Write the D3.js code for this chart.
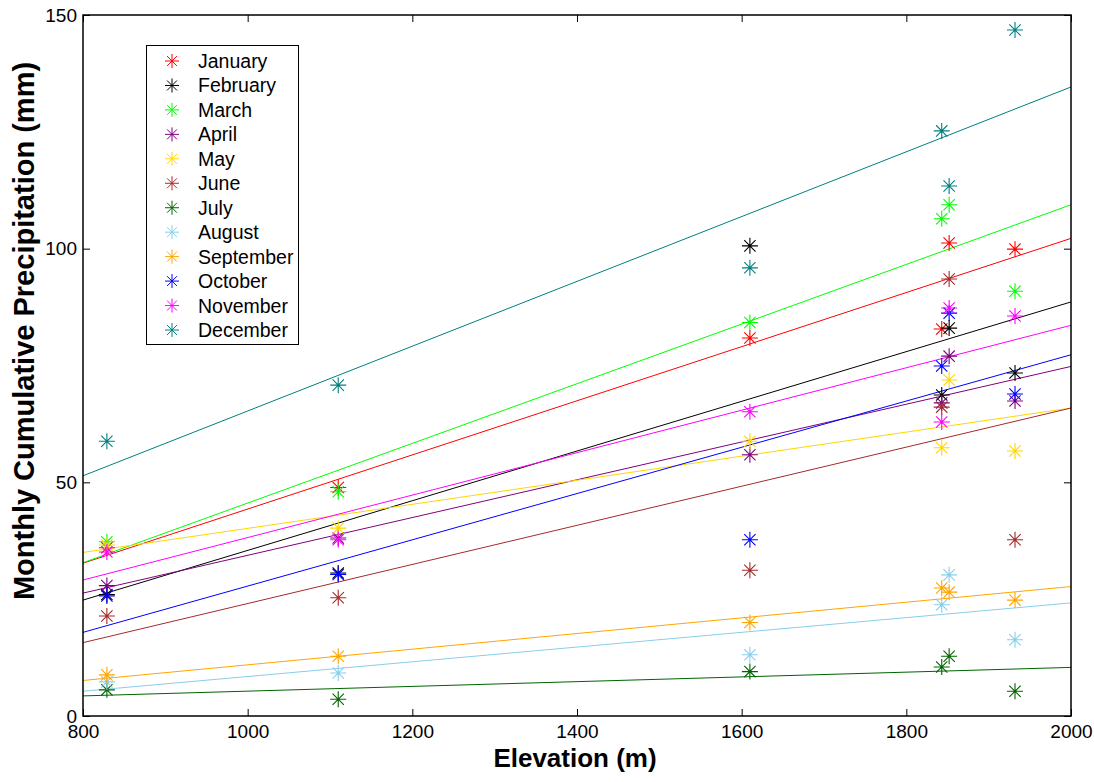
<!DOCTYPE html>
<html>
<head>
<meta charset="utf-8">
<script src="https://d3js.org/d3.v7.min.js"></script>
<style>
  body { margin: 0; background: #fff; }
  svg text { font-family: Arial, "Liberation Sans", Helvetica, sans-serif; }
</style>
</head>
<body>
<div id="chart"></div>
<script>
// station elevations (m)
const elevations = [829, 1110, 1610, 1843, 1852, 1932];

const months = ["January", "February", "March", "April", "May", "June",
  "July", "August", "September", "October", "November", "December"];

const colors = ["#ff0000", "#000000", "#00ff00", "#800080", "#ffd700", "#a52a2a",
  "#006400", "#87ceeb", "#ffa500", "#0000ff", "#ff00ff", "#008080"];

// monthly precipitation at each station (same order as elevations)
const january   = [36.0, 48.9, 80.9, 82.8, 101.2, 99.9];
const february  = [26.0, 30.6, 100.6, 68.7, 83.0, 73.4];
const march     = [37.3, 48.0, 84.2, 106.4, 109.4, 90.9];
const april     = [27.9, 38.1, 55.9, 67.0, 77.0, 67.4];
const may       = [36.6, 40.2, 58.8, 57.4, 71.9, 56.7];
const june      = [21.4, 25.3, 31.2, 66.1, 93.5, 37.7];
const july      = [5.6, 3.6, 9.5, 10.5, 12.8, 5.3];
const august    = [7.3, 9.2, 13.1, 23.8, 30.2, 16.3];
const september = [8.8, 12.8, 20.0, 27.4, 26.5, 24.8];
const october   = [25.7, 30.3, 37.7, 74.9, 86.2, 68.9];
const november  = [35.1, 37.7, 65.1, 62.9, 87.3, 85.6];
const december  = [58.8, 70.8, 95.9, 125.2, 113.4, 146.8];

// fitted trend lines, value at 800 m and at 2000 m
const fitElev = [800, 2000];
const fitJan = [32.7, 102.2];
const fitFeb = [24.8, 88.6];
const fitMar = [32.8, 109.4];
const fitApr = [26.3, 74.8];
const fitMay = [35.0, 65.9];
const fitJun = [15.7, 65.9];
const fitJul = [4.3, 10.4];
const fitAug = [5.3, 24.2];
const fitSep = [7.6, 27.7];
const fitOct = [17.9, 77.3];
const fitNov = [29.1, 83.6];
const fitDec = [51.4, 134.6];

const xTicks = [800, 1000, 1200, 1400, 1600, 1800, 2000];
const yTicks = [0, 50, 100, 150];

const obs = [january, february, march, april, may, june, july, august,
  september, october, november, december];
const fits = [fitJan, fitFeb, fitMar, fitApr, fitMay, fitJun, fitJul, fitAug,
  fitSep, fitOct, fitNov, fitDec];

const W = 1094, H = 782;
const plotL = 83, plotR = 1071, plotT = 15, plotB = 716;

const svg = d3.select("#chart").append("svg")
    .attr("width", W)
    .attr("height", H);

svg.append("rect").attr("width", W).attr("height", H).attr("fill", "#fff");

const x = d3.scaleLinear().domain([800, 2000]).range([plotL, plotR]);
const y = d3.scaleLinear().domain([0, 150]).range([plotB, plotT]);

// asterisk marker like matlab '*'
function star(r) {
  const d = r * 0.7071;
  return `M${-r},0L${r},0M0,${-r}L0,${r}M${-d},${-d}L${d},${d}M${-d},${d}L${d},${-d}`;
}

// trend lines
const line = d3.line().x(d => x(d[0])).y(d => y(d[1]));
fits.forEach(function(f, i) {
  svg.append("path")
      .datum(fitElev.map((e, k) => [e, f[k]]))
      .attr("d", line)
      .attr("fill", "none")
      .attr("stroke", colors[i])
      .attr("stroke-width", 1);
});

// observed points
obs.forEach(function(vals, i) {
  svg.append("g").selectAll("path")
      .data(vals.map((v, k) => [elevations[k], v]))
      .join("path")
      .attr("d", star(8))
      .attr("transform", d => `translate(${x(d[0])},${y(d[1])})`)
      .attr("fill", "none")
      .attr("stroke", colors[i])
      .attr("stroke-width", 1.1);
});

// axes, ticks pointing inward
function styleAxis(g) {
  g.select(".domain").remove();
  g.selectAll(".tick line").attr("stroke", "#000");
  g.selectAll(".tick text").attr("fill", "#000").style("font-size", "19px");
}

const fmt = d3.format("d");

svg.append("g")
    .attr("transform", `translate(0,${plotB})`)
    .call(d3.axisBottom(x).tickValues(xTicks).tickFormat(fmt).tickSizeInner(-7).tickSizeOuter(0).tickPadding(9))
    .call(styleAxis);

svg.append("g")
    .attr("transform", `translate(0,${plotT})`)
    .call(d3.axisTop(x).tickValues(xTicks).tickSizeInner(-7).tickSizeOuter(0).tickFormat(""))
    .call(styleAxis);

svg.append("g")
    .attr("transform", `translate(${plotL},0)`)
    .call(d3.axisLeft(y).tickValues(yTicks).tickFormat(fmt).tickSizeInner(-7).tickSizeOuter(0).tickPadding(6))
    .call(styleAxis);

svg.append("g")
    .attr("transform", `translate(${plotR},0)`)
    .call(d3.axisRight(y).tickValues(yTicks).tickSizeInner(-7).tickSizeOuter(0).tickFormat(""))
    .call(styleAxis);

svg.append("rect")
    .attr("x", plotL).attr("y", plotT)
    .attr("width", plotR - plotL).attr("height", plotB - plotT)
    .attr("fill", "none")
    .attr("stroke", "#000")
    .attr("stroke-width", 1.5);

// axis titles
svg.append("text")
    .attr("x", 575)
    .attr("y", 767)
    .attr("text-anchor", "middle")
    .style("font-size", "26px")
    .style("font-weight", "bold")
    .text("Elevation (m)");

svg.append("text")
    .attr("transform", "translate(34,331) rotate(-90)")
    .attr("text-anchor", "middle")
    .style("font-size", "29px")
    .style("font-weight", "bold")
    .text("Monthly Cumulative Precipitation (mm)");

// legend
const legend = svg.append("g");
legend.append("rect")
    .attr("x", 146.5).attr("y", 45.5)
    .attr("width", 152).attr("height", 299)
    .attr("fill", "#fff")
    .attr("stroke", "#000")
    .attr("stroke-width", 1);

const rowY = d3.scalePoint().domain(months).range([61, 330]);
months.forEach(function(m, i) {
  legend.append("path")
      .attr("d", star(7))
      .attr("transform", `translate(172,${rowY(m)})`)
      .attr("fill", "none")
      .attr("stroke", colors[i])
      .attr("stroke-width", 1);
  legend.append("text")
      .attr("x", 198)
      .attr("y", rowY(m))
      .attr("dy", "0.36em")
      .style("font-size", "19.5px")
      .text(m);
});
</script>
</body>
</html>
